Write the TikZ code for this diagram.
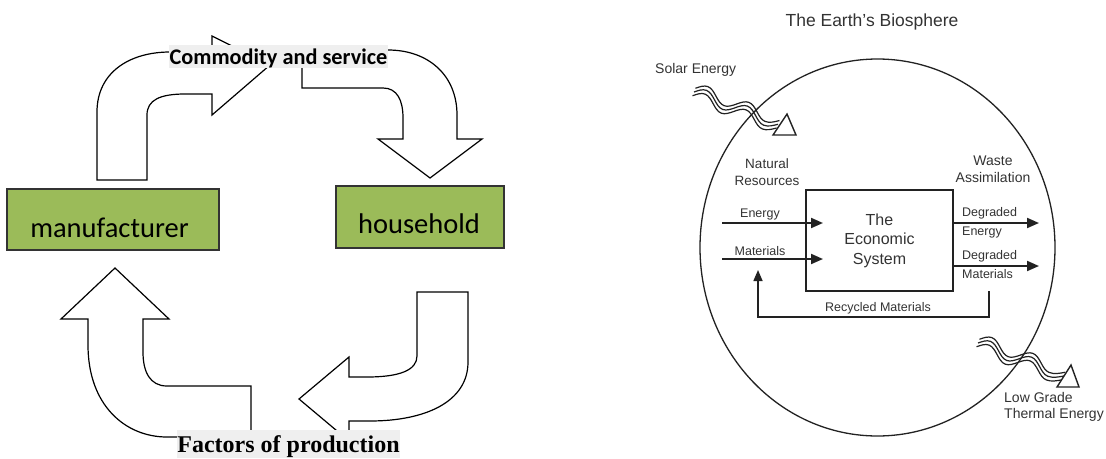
\documentclass[tikz,border=0pt]{standalone}
\usepackage{fontspec}
\setmainfont{Liberation Sans}
\newfontfamily\calfont{Carlito}
\newfontfamily\timesfont{Liberation Serif}
\usetikzlibrary{arrows.meta}
\definecolor{boxgreen}{HTML}{9BBB59}
\definecolor{lblgray}{HTML}{EFEFEF}
\definecolor{txtgray}{HTML}{333333}
\definecolor{linegray}{HTML}{222222}
\newcommand{\fsz}[2]{\fontsize{#1}{#2}\selectfont}
\begin{document}
\begin{tikzpicture}[x=1pt,y=-1pt,
  blockarrow/.style={draw=black, line width=1.2pt, fill=white, line join=miter},
  greenbox/.style={draw=black!80, line width=1.2pt, fill=boxgreen, inner sep=0pt},
  boxtext/.style={anchor=base, font=\calfont\fsz{28.5}{30}, text=black},
  graylabel/.style={fill=lblgray, inner sep=0pt, anchor=base},
  bio/.style={text=txtgray, inner sep=0pt},
  flowarrow/.style={draw=linegray, line width=2pt, -{Triangle[length=12pt,width=10pt]}},
  loopline/.style={draw=linegray, line width=1.5pt},
  wave/.style={draw=linegray, line width=1.2pt},
  openhead/.style={draw=linegray, line width=1.4pt, fill=white, line join=miter}
]
\useasboundingbox (0,0) rectangle (1106,458);
\fill[white] (0,0) rectangle (1106,458);

% ---------------- Left diagram ----------------
% top-left block arrow (manufacturer -> commodity)
\draw[blockarrow] (97,180) -- (97,112) .. controls (97,72) and (130,52) .. (170,52)
  -- (212,52) -- (212,36) -- (270,65) -- (212,115) -- (212,94) -- (185,94)
  .. controls (160,94) and (147,100) .. (147,115) -- (147,180) -- cycle;
% top-right block arrow (commodity -> household)
\draw[blockarrow] (302,52) -- (302,88) -- (383,88) .. controls (397,88) and (403,100) .. (403,118)
  -- (403,139) -- (378,139) -- (430,178) -- (482,139) -- (457,139) -- (457,115)
  .. controls (457,75) and (428,50) .. (388,50) -- cycle;
% bottom-left block arrow (factors -> manufacturer)
\draw[blockarrow] (88,319) -- (88,345) .. controls (88,405) and (125,437) .. (167,437)
  -- (251,437) -- (251,386) -- (167,386) .. controls (150,386) and (143,372) .. (143,352)
  -- (143,319) -- (169,319) -- (115,268) -- (61,319) -- cycle;
% bottom-right block arrow (household -> factors)
\draw[blockarrow] (417,292) -- (468,292) -- (468,362) .. controls (468,402) and (425,421) .. (370,421)
  -- (349,421) -- (349,441) -- (299,399) -- (349,357) -- (349,377) -- (367,377)
  .. controls (400,377) and (417,370) .. (417,356) -- cycle;

% boxes
\node[greenbox, minimum width=212pt, minimum height=61pt] (manu) at (113,219.5) {};
\node[boxtext] (manutext) at (109.5,237) {manufacturer};
\node[greenbox, minimum width=168pt, minimum height=62pt] (house) at (420,217) {};
\node[boxtext] (housetext) at (419,233) {household};

% labels
\node[graylabel, minimum width=219pt, text height=19pt, text depth=4pt,
  font=\calfont\bfseries\fsz{22.3}{23}] (commodity) at (278.5,64) {Commodity and service};
\node[graylabel, minimum width=223pt, text height=22pt, text depth=6pt,
  font=\timesfont\bfseries\fsz{24}{25}] (factors) at (288.5,452) {Factors of production};

% ---------------- Right diagram ----------------
\node[bio, font=\fsz{17.5}{20}] (title) at (872,22) {The Earth's Biosphere};
\draw[draw=linegray, line width=1.3pt] (877.5,247.5) ellipse [x radius=177.5pt, y radius=188.5pt];

% solar energy waves
\node[bio, anchor=west, font=\fsz{14}{16}] (solar) at (655,70) {Solar Energy};
\begin{scope}[shift={(694,92)}, rotate=-21]
  \foreach \o in {-4,0,4} {
    \draw[wave] (0,\o) sin (11,\o-6) cos (22,\o) sin (33,\o+6) cos (44,\o)
      sin (55,\o-6) cos (66,\o) sin (77,\o+6) cos (90,\o);
  }
\end{scope}
\draw[openhead] (773,135) -- (796,135) -- (787,114) -- cycle;

% low grade thermal energy waves
\begin{scope}[shift={(978,343)}, rotate=-21]
  \foreach \o in {-4,0,4} {
    \draw[wave] (0,\o) sin (11,\o-6) cos (22,\o) sin (33,\o+6) cos (44,\o)
      sin (55,\o-6) cos (66,\o) sin (77,\o+6) cos (92,\o);
  }
\end{scope}
\draw[openhead] (1057,387) -- (1079,387) -- (1071,365) -- cycle;
\node[bio, anchor=north west, align=left, font=\fsz{14}{16.5}] (lowgrade) at (1004,392)
  {Low Grade\\Thermal Energy};

% headings
\node[bio, align=center, font=\fsz{13.5}{17}] (natres) at (767,172) {Natural\\Resources};
\node[bio, align=center, font=\fsz{14}{17}] (waste) at (993,169) {Waste\\Assimilation};

% economic system box
\node[draw=linegray, line width=2pt, minimum width=147pt, minimum height=101pt,
  align=center, text=txtgray, font=\fsz{16}{19.5}] (eco) at (879.5,240.5)
  {The\\Economic\\System};

% inputs
\coordinate (enS) at (722,223);
\coordinate (enE) at (823,223);
\coordinate (maS) at (722,259);
\coordinate (maE) at (823,259);
\draw[flowarrow] (enS) -- (enE);
\draw[flowarrow] (maS) -- (maE);
\node[bio, font=\fsz{12.5}{14}] (enlbl) at (760,214) {Energy};
\node[bio, font=\fsz{12.5}{14}] (malbl) at (760,251) {Materials};

% outputs
\coordinate (deE) at (1039,223);
\coordinate (dmE) at (1039,266);
\draw[flowarrow] (eco.east |- deE) -- (deE);
\draw[flowarrow] (eco.east |- dmE) -- (dmE);
\node[bio, anchor=west, align=left, font=\fsz{12.5}{19}] (delbl) at (962,222.5) {Degraded\\Energy};
\node[bio, anchor=west, align=left, font=\fsz{12.5}{19}] (dmlbl) at (962,264.5) {Degraded\\Materials};

% recycled loop
\coordinate (rcA) at (989,291);
\coordinate (rcB) at (758,270);
\draw[loopline, -{Triangle[length=11pt,width=9pt]}] (rcA) -- (989,317) -- (758,317) -- (rcB);
\node[bio, font=\fsz{12.5}{14}] (rclbl) at (878,308) {Recycled Materials};
\end{tikzpicture}
\end{document}
